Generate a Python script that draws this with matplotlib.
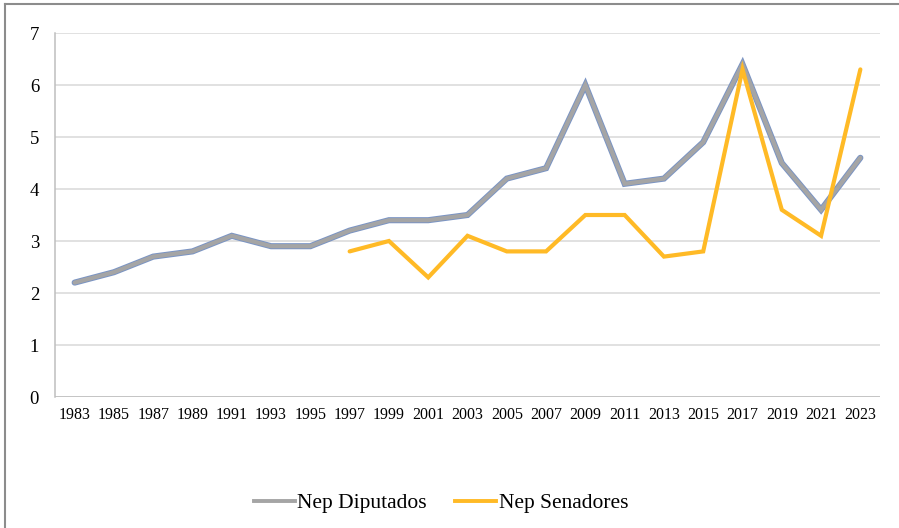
import matplotlib
matplotlib.use("Agg")
import matplotlib.pyplot as plt
from matplotlib.lines import Line2D

years = ["1983", "1985", "1987", "1989", "1991", "1993", "1995", "1997", "1999", "2001",
         "2003", "2005", "2007", "2009", "2011", "2013", "2015", "2017", "2019", "2021", "2023"]
nep_diputados = [2.2, 2.4, 2.7, 2.8, 3.1, 2.9, 2.9, 3.2, 3.4, 3.4,
                 3.5, 4.2, 4.4, 6.0, 4.1, 4.2, 4.9, 6.4, 4.5, 3.6, 4.6]
senado_years = ["1997", "1999", "2001", "2003", "2005", "2007", "2009", "2011",
                "2013", "2015", "2017", "2019", "2021", "2023"]
nep_senadores = [2.8, 3.0, 2.3, 3.1, 2.8, 2.8, 3.5, 3.5, 2.7, 2.8, 6.3, 3.6, 3.1, 6.3]
y_ticks = [0, 1, 2, 3, 4, 5, 6, 7]

plt.rcParams['font.family'] = ['Liberation Serif', 'DejaVu Serif']

W, H = 899, 528
fig = plt.figure(figsize=(W / 100, H / 100), dpi=100)
ax = fig.add_axes([55 / W, 1 - 397 / H, (880 - 55) / W, (397 - 33) / H])

x_dip = list(range(len(years)))
x_sen = [years.index(y) for y in senado_years]

ax.plot(x_dip, nep_diputados, color='#7A94C4', lw=4.4, solid_capstyle='round',
        solid_joinstyle='miter', zorder=3)
ax.plot(x_dip, nep_diputados, color='#A5A5A5', lw=3.0, solid_capstyle='round',
        solid_joinstyle='miter', zorder=4)
ax.plot(x_sen, nep_senadores, color='#FFBA26', lw=3.0, solid_capstyle='round',
        solid_joinstyle='miter', zorder=5)

ax.set_xlim(-0.5, len(years) - 0.5)
ax.set_ylim(0, 7)
ax.set_yticks(y_ticks)
ax.set_yticklabels([str(v) for v in y_ticks], fontsize=13.5)
ax.set_xticks(x_dip)
ax.set_xticklabels(years, fontsize=11.5)
ax.tick_params(axis='both', length=0, colors='black')
ax.tick_params(axis='y', pad=11.5)
ax.tick_params(axis='x', pad=7)

for v in y_ticks[1:]:
    ax.axhline(v, color='#D9D9D9', lw=1.1, zorder=1)
ax.axhline(0, color='#BFBFBF', lw=1.3, zorder=2)

for s in ['top', 'right', 'bottom']:
    ax.spines[s].set_visible(False)
ax.spines['left'].set_color('#BFBFBF')
ax.spines['left'].set_linewidth(1.1)

handles = [Line2D([], [], color='#A5A5A5', lw=2.8),
           Line2D([], [], color='#FFBA26', lw=2.8)]
fig.legend(handles, ['Nep Diputados', 'Nep Senadores'], loc='center',
           bbox_to_anchor=(441 / W, 1 - 503 / H), ncol=2, frameon=False,
           fontsize=15.5, handlelength=1.9, handletextpad=0.12, columnspacing=1.3)

# outer border (top and left)
fig.add_artist(Line2D([5 / W, 5 / W], [0, 1 - 4 / H], color='#8C8C8C', lw=1.5,
                      transform=fig.transFigure))
fig.add_artist(Line2D([5 / W, 1], [1 - 4 / H, 1 - 4 / H], color='#8C8C8C', lw=1.5,
                      transform=fig.transFigure))

fig.savefig('out.png', dpi=100)
